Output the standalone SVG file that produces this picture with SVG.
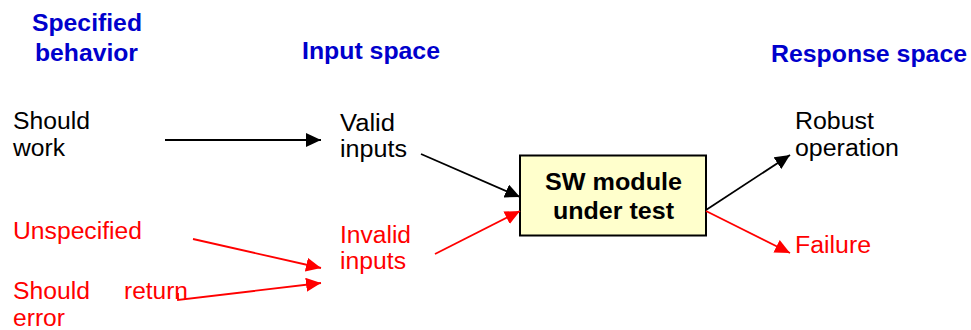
<svg xmlns="http://www.w3.org/2000/svg" width="971" height="330" viewBox="0 0 971 330">
<style>
text{font-family:"Liberation Sans",Arial,sans-serif;font-size:23px}
.hd{fill:#0000CC;font-weight:bold}
.bk{fill:#000}
.rd{fill:#FF0000}
.bx{fill:#FFFFCC;stroke:#000;stroke-width:2}
.bt{font-weight:bold;fill:#000;font-size:24px}
.cb{stroke:#000;stroke-width:1.8;fill:none;marker-end:url(#ab)}
.cr{stroke:#FF0000;stroke-width:1.8;fill:none;marker-end:url(#ar)}
</style>
<defs>
<marker id="ab" viewBox="0 0 15 14" refX="15" refY="7" markerWidth="15" markerHeight="14" markerUnits="userSpaceOnUse" orient="auto"><path d="M0,0 L15,7 L0,14 Z" fill="#000"/></marker>
<marker id="ar" viewBox="0 0 15 14" refX="15" refY="7" markerWidth="15" markerHeight="14" markerUnits="userSpaceOnUse" orient="auto"><path d="M0,0 L15,7 L0,14 Z" fill="#FF0000"/></marker>
</defs>
<g id="headers">
<text class="hd" x="32" y="30.5" textLength="110" lengthAdjust="spacingAndGlyphs">Specified</text>
<text class="hd" x="35" y="60.5" textLength="103" lengthAdjust="spacingAndGlyphs">behavior</text>
<text class="hd" x="302" y="59" textLength="138" lengthAdjust="spacingAndGlyphs">Input space</text>
<text class="hd" x="771" y="62" textLength="196" lengthAdjust="spacingAndGlyphs">Response space</text>
</g>
<g id="should-work"><text class="bk" x="13" y="129" textLength="77" lengthAdjust="spacingAndGlyphs">Should</text><text class="bk" x="13" y="156" textLength="52" lengthAdjust="spacingAndGlyphs">work</text></g>
<g id="valid-inputs"><text class="bk" x="340" y="130.5" textLength="55" lengthAdjust="spacingAndGlyphs">Valid</text><text class="bk" x="340" y="156.5" textLength="67" lengthAdjust="spacingAndGlyphs">inputs</text></g>
<g id="robust"><text class="bk" x="795" y="129" textLength="79" lengthAdjust="spacingAndGlyphs">Robust</text><text class="bk" x="795" y="156" textLength="104" lengthAdjust="spacingAndGlyphs">operation</text></g>
<g id="unspecified"><text class="rd" x="13" y="239" textLength="129" lengthAdjust="spacingAndGlyphs">Unspecified</text></g>
<g id="should-return-error"><text class="rd" x="13" y="299" textLength="77" lengthAdjust="spacingAndGlyphs">Should</text><text class="rd" x="124" y="299" textLength="64" lengthAdjust="spacingAndGlyphs">return</text><text class="rd" x="13" y="326" textLength="52" lengthAdjust="spacingAndGlyphs">error</text></g>
<g id="invalid-inputs"><text class="rd" x="340" y="243" textLength="71" lengthAdjust="spacingAndGlyphs">Invalid</text><text class="rd" x="340" y="269" textLength="66" lengthAdjust="spacingAndGlyphs">inputs</text></g>
<g id="failure"><text class="rd" x="795" y="252.5" textLength="76" lengthAdjust="spacingAndGlyphs">Failure</text></g>
<g id="sw-module">
<rect class="bx" x="520" y="155.5" width="186" height="80"/>
<text class="bt" x="545" y="190" textLength="137" lengthAdjust="spacingAndGlyphs">SW module</text>
<text class="bt" x="553" y="219" textLength="121" lengthAdjust="spacingAndGlyphs">under test</text>
</g>
<g id="connectors">
<line class="cb" x1="165" y1="140" x2="321" y2="140"/>
<line class="cb" x1="421" y1="154" x2="520" y2="197"/>
<line class="cr" x1="435" y1="254" x2="520" y2="211"/>
<line class="cb" x1="706" y1="210" x2="790" y2="155"/>
<line class="cr" x1="706" y1="211" x2="790" y2="253"/>
<line class="cr" x1="193" y1="239" x2="321" y2="268"/>
<polyline class="cr" points="178,293 178,300 321,283"/>
</g>
</svg>
